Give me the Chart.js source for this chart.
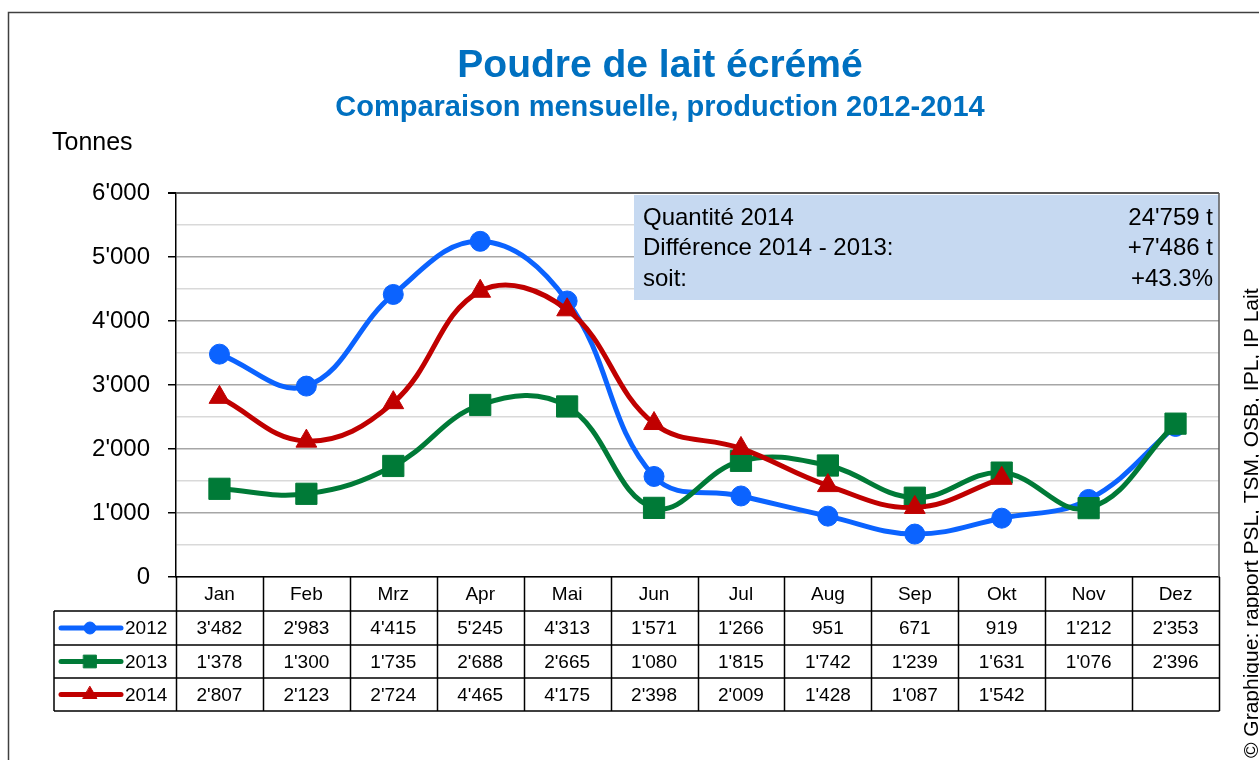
<!DOCTYPE html>
<html>
<head>
<meta charset="utf-8">
<script src="https://cdn.jsdelivr.net/npm/chart.js@4/dist/chart.umd.min.js"></script>
<style>
html,body{margin:0;padding:0;background:#fff;}
canvas{display:block;}
</style>
</head>
<body>
<canvas id="c" width="1259" height="760"></canvas>
<script>
const months = ['Jan','Feb','Mrz','Apr','Mai','Jun','Jul','Aug','Sep','Okt','Nov','Dez'];
const years = ['2012','2013','2014'];
const v2012 = [3482,2983,4415,5245,4313,1571,1266,951,671,919,1212,2353];
const v2013 = [1378,1300,1735,2688,2665,1080,1815,1742,1239,1631,1076,2396];
const v2014 = [2807,2123,2724,4465,4175,2398,2009,1428,1087,1542,null,null];
const seriesColors = ['#0B63FF','#007A37','#C00000'];
const pointStyles = ['circle','rect','triangle'];
const pointSizes = [10,15,12];
const yMin = 0, yMax = 6000, yStep = 500;
const titleText = 'Poudre de lait écrémé';
const subtitleText = 'Comparaison mensuelle, production 2012-2014';
const yAxisTitle = 'Tonnes';
const infoLabels = ['Quantité 2014','Différence 2014 - 2013:','soit:'];
const infoValues = ["24'759 t","+7'486 t","+43.3%"];
const copyrightText = '© Graphique: rapport PSL, TSM, OSB, IPL, IP Lait';

const FONT = '"Liberation Sans", Arial, sans-serif';
const fmt = n => (n === null || n === undefined) ? '' : String(n).replace(/\B(?=(\d{3})+(?!\d))/g, "'");
const seriesValues = [v2012, v2013, v2014];

const decor = {
  id: 'decor',
  beforeDatasetsDraw(chart) {
    const ctx = chart.ctx, a = chart.chartArea;
    ctx.save();
    // info box
    const bx = 634, by = 195, bw = a.right - 634, bh = 105;
    ctx.fillStyle = '#C6D9F1';
    ctx.fillRect(bx, by, bw, bh);
    ctx.fillStyle = '#000';
    ctx.font = '24px ' + FONT;
    ctx.textBaseline = 'middle';
    const rows = [218, 248, 279];
    infoLabels.forEach((t, i) => { ctx.textAlign = 'left'; ctx.fillText(t, 643, rows[i]); });
    infoValues.forEach((t, i) => { ctx.textAlign = 'right'; ctx.fillText(t, a.right - 6, rows[i]); });
    // right border of plot
    ctx.strokeStyle = '#595959';
    ctx.lineWidth = 1.5;
    ctx.beginPath();
    ctx.moveTo(a.right, a.top); ctx.lineTo(a.right, a.bottom);
    ctx.stroke();
    ctx.restore();
  },
  afterDraw(chart) {
    const ctx = chart.ctx, a = chart.chartArea, xs = chart.scales.x;
    ctx.save();
    // titles
    ctx.fillStyle = '#0070C0';
    ctx.textAlign = 'center';
    ctx.textBaseline = 'middle';
    ctx.font = 'bold 39px ' + FONT;
    ctx.fillText(titleText, 660, 66);
    ctx.font = 'bold 29px ' + FONT;
    ctx.fillText(subtitleText, 660, 108);
    // y axis title
    ctx.fillStyle = '#000';
    ctx.textAlign = 'left';
    ctx.font = '25px ' + FONT;
    ctx.fillText(yAxisTitle, 52, 143);

    // data table
    const w = (a.right - a.left) / months.length;
    const rowY = [a.bottom, 611, 645, 678, 711];
    const legL = 54;
    ctx.strokeStyle = '#000';
    ctx.lineWidth = 1.5;
    ctx.beginPath();
    for (let i = 0; i <= months.length; i++) {
      const x = Math.round(a.left + i * w) + 0.5;
      ctx.moveTo(x, rowY[0]); ctx.lineTo(x, rowY[4]);
    }
    ctx.moveTo(legL, rowY[1]); ctx.lineTo(legL, rowY[4]);
    for (let r = 1; r < rowY.length; r++) {
      ctx.moveTo(legL, rowY[r]); ctx.lineTo(a.right + 0.5, rowY[r]);
    }
    ctx.stroke();
    ctx.fillStyle = '#000';
    ctx.font = '19px ' + FONT;
    ctx.textAlign = 'center';
    ctx.textBaseline = 'middle';
    months.forEach((m, i) => ctx.fillText(m, xs.getPixelForValue(i), (rowY[0] + rowY[1]) / 2 + 1));
    seriesValues.forEach((vals, s) => {
      const cy = (rowY[s + 1] + rowY[s + 2]) / 2 + 1;
      vals.forEach((v, i) => ctx.fillText(fmt(v), xs.getPixelForValue(i), cy));
    });
    // legend keys
    years.forEach((y, s) => {
      const cy = (rowY[s + 1] + rowY[s + 2]) / 2;
      ctx.strokeStyle = seriesColors[s];
      ctx.lineWidth = 5;
      ctx.lineCap = 'round';
      ctx.beginPath(); ctx.moveTo(61, cy); ctx.lineTo(121, cy); ctx.stroke();
      ctx.fillStyle = seriesColors[s];
      ctx.strokeStyle = seriesColors[s];
      ctx.lineWidth = 1;
      Chart.helpers.drawPoint(ctx, {pointStyle: pointStyles[s], radius: [6, 9, 8][s], rotation: 0, borderWidth: 1}, 90, cy);
      ctx.fillStyle = '#000';
      ctx.textAlign = 'left';
      ctx.fillText(y, 125, cy + 1);
    });
    // copyright (vertical)
    ctx.save();
    ctx.translate(1252, 758);
    ctx.rotate(-Math.PI / 2);
    ctx.fillStyle = '#000';
    ctx.font = '21px ' + FONT;
    ctx.textAlign = 'left';
    ctx.textBaseline = 'middle';
    ctx.fillText(copyrightText, 0, 0);
    ctx.restore();
    // outer frame
    ctx.strokeStyle = '#404040';
    ctx.lineWidth = 1.5;
    ctx.strokeRect(8.5, 12.5, 1300, 800);
    ctx.restore();
  }
};

new Chart(document.getElementById('c'), {
  type: 'line',
  data: {
    labels: months,
    datasets: years.map((y, s) => ({
      label: y,
      data: seriesValues[s],
      borderColor: seriesColors[s],
      backgroundColor: seriesColors[s],
      pointBackgroundColor: seriesColors[s],
      pointBorderColor: seriesColors[s],
      pointBorderWidth: 1,
      borderWidth: 5,
      pointStyle: pointStyles[s],
      pointRadius: pointSizes[s],
      tension: 0.4,
      spanGaps: false,
      fill: false,
      order: 2 - s
    }))
  },
  options: {
    responsive: false,
    animation: false,
    devicePixelRatio: 1,
    layout: { padding: { left: 0, top: 193, right: 40, bottom: 0 } },
    plugins: { legend: { display: false }, tooltip: { enabled: false }, title: { display: false } },
    scales: {
      x: {
        offset: true,
        grid: { display: false, drawTicks: false },
        border: { display: true, color: '#000', width: 1.5 },
        ticks: { display: false },
        afterFit: s => { s.height = 183; }
      },
      y: {
        min: yMin, max: yMax,
        ticks: {
          stepSize: yStep,
          autoSkip: false,
          callback: v => (v % 1000 === 0 ? fmt(v) : ''),
          font: { size: 24, family: FONT },
          color: '#000',
          padding: 18
        },
        grid: {
          color: c => (c.tick && c.tick.value === yMax) ? '#595959' : ((c.tick && c.tick.value % 1000 === 0) ? '#A6A6A6' : '#D9D9D9'),
          lineWidth: c => (c.tick && c.tick.value === yMax) ? 2 : 1.5,
          tickColor: c => (c.tick && c.tick.value % 1000 === 0) ? '#000' : 'rgba(0,0,0,0)',
          tickLength: 8,
          drawTicks: true
        },
        border: { display: true, color: '#000', width: 1.5 },
        afterFit: s => { s.width = 176; }
      }
    }
  },
  plugins: [decor]
});
</script>
</body>
</html>
